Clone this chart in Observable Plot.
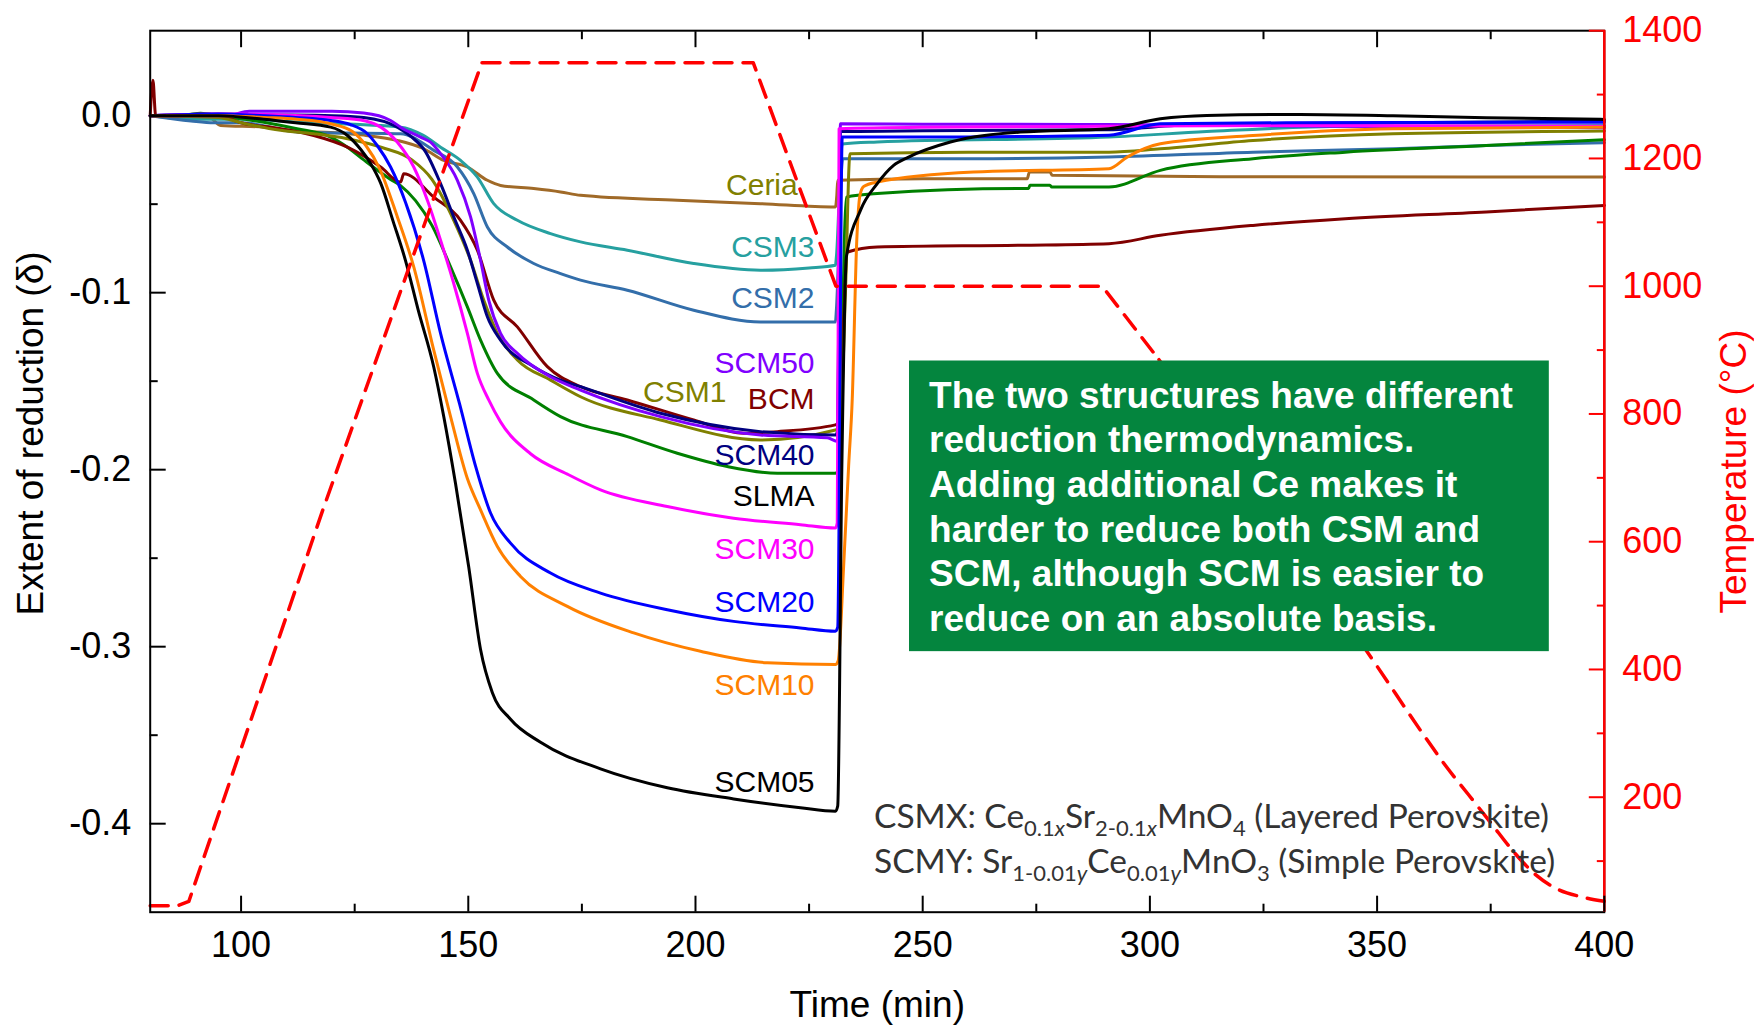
<!DOCTYPE html>
<html><head><meta charset="utf-8">
<script src="https://cdn.jsdelivr.net/npm/d3@7"></script>
<script src="https://cdn.jsdelivr.net/npm/@observablehq/plot@0.6"></script>
<style>html,body{margin:0;padding:0;background:#fff;} #chart svg{display:block}</style>
</head><body><div id="chart"></div>
<script>
// ---- data: [time (min), extent of reduction δ] ----
const SCM05 = [[80,0],[95,0],[105,-0.002],[112,-0.004],[119.7,-0.0065],[123.4,-0.0112],[126.3,-0.019],[128.5,-0.027],[130.7,-0.038],[133.5,-0.06],[136.2,-0.082],[139,-0.11],[142.4,-0.142],[144.6,-0.17],[147.2,-0.208],[150.1,-0.255],[152.7,-0.3016],[155.3,-0.326],[159.3,-0.341],[165.9,-0.354],[179.1,-0.369],[193.8,-0.3797],[208.4,-0.386],[223.1,-0.391],[230.8,-0.393],[231.3,-0.39],[232.2,-0.2],[233.2,-0.08],[236.3,-0.0535],[240,-0.0384],[243.6,-0.0281],[246.9,-0.0234],[256.1,-0.0149],[271.5,-0.0093],[291,-0.0074],[302.3,-0.0018],[312.5,0.0001],[333,0.0007],[353.5,0],[374,-0.0012],[400,-0.0021]];
const SCM10 = [[80,0],[95,0],[105,-0.001],[112.3,-0.002],[119.7,-0.0046],[124.5,-0.009],[127.5,-0.017],[130.5,-0.03],[134.4,-0.0572],[138,-0.0854],[142.4,-0.1325],[146.1,-0.17],[149.8,-0.205],[152.7,-0.2227],[156.4,-0.2434],[161.5,-0.2603],[171.8,-0.2772],[186.4,-0.2922],[201.1,-0.3026],[215.8,-0.3091],[230.8,-0.31],[231.4,-0.308],[232.6,-0.2546],[233.7,-0.198],[234.5,-0.16],[235.5,-0.07],[236.2,-0.045],[237,-0.04],[240,-0.0375],[261.2,-0.0318],[291,-0.03],[295,-0.0234],[302.3,-0.0159],[322.7,-0.0112],[353.5,-0.0074],[400,-0.0065]];
const SCM20 = [[80,0],[95,0.001],[105,0],[112,-0.001],[119.7,-0.0027],[124,-0.005],[127.8,-0.0102],[130,-0.017],[132.9,-0.029],[136.2,-0.049],[140.2,-0.082],[143.9,-0.123],[148.1,-0.163],[151.6,-0.198],[154.9,-0.2245],[159.3,-0.2415],[168.1,-0.2584],[179.1,-0.2697],[193.8,-0.2791],[208.4,-0.2857],[223.1,-0.2894],[230.8,-0.2913],[231.3,-0.289],[232.3,-0.012],[240,-0.0121],[260,-0.012],[291,-0.011],[302.3,-0.0046],[330,-0.004],[400,-0.0037]];
const SCM30 = [[80,0],[95,0.001],[113.1,0],[119.7,-0.001],[127.4,-0.003],[134.4,-0.015],[138,-0.029],[141,-0.0478],[143.9,-0.0704],[146.8,-0.0948],[149.8,-0.123],[152,-0.1456],[154.5,-0.1606],[157.1,-0.173],[163.7,-0.191],[171.8,-0.2025],[179.1,-0.2114],[193.8,-0.2208],[208.4,-0.2274],[223.1,-0.2311],[230.8,-0.233],[231.2,-0.23],[231.6,-0.0074],[250,-0.0065],[290,-0.006],[330,-0.0055],[400,-0.006]];
const SCM40 = [[80,0],[95,0.001],[105,0.0005],[120,0],[127,-0.001],[134.4,-0.0065],[137.5,-0.012],[140.5,-0.02],[143.9,-0.0384],[146.8,-0.0572],[149.8,-0.076],[152,-0.0948],[154.2,-0.1136],[157.1,-0.1268],[164.4,-0.1418],[170.3,-0.1494],[174.7,-0.1531],[192.3,-0.1681],[214.3,-0.1785],[230.8,-0.1804],[231.3,-0.178],[231.9,-0.009],[250,-0.0085],[290,-0.008],[310,-0.005],[400,-0.003]];
const SCM50 = [[80,0],[96.9,0],[101.8,0.0025],[120,0.0025],[127,0.0015],[132.9,-0.0027],[135.1,-0.0065],[139.5,-0.0121],[141.7,-0.015],[143.9,-0.0215],[147.6,-0.0365],[150.5,-0.0572],[152.7,-0.0817],[154.5,-0.1042],[157.1,-0.123],[160.8,-0.1343],[168.1,-0.1475],[174.7,-0.155],[192.3,-0.17],[214.3,-0.1804],[229,-0.182],[231.3,-0.184],[231.6,-0.1],[231.9,-0.0046],[250,-0.0048],[290,-0.005],[330,-0.0058],[400,-0.0068]];
const CSM1 = [[80,0],[95,-0.001],[100,-0.004],[108.7,-0.0083],[116,-0.0102],[123.4,-0.013],[131,-0.018],[137.6,-0.025],[142,-0.036],[146.8,-0.0591],[150.5,-0.0817],[153.4,-0.1042],[156.4,-0.123],[160.8,-0.138],[168.1,-0.1494],[174.7,-0.1588],[192.3,-0.1719],[214.3,-0.1832],[230.8,-0.1776],[231.8,-0.176],[233,-0.1],[234,-0.0215],[260,-0.0206],[291,-0.0206],[302.3,-0.0187],[322.7,-0.014],[353.5,-0.0102],[400,-0.0087]];
const CSM2 = [[80,0],[89,-0.003],[94,-0.004],[100,-0.004],[113.1,-0.0093],[135.1,-0.0102],[142.4,-0.0196],[147.6,-0.029],[151.2,-0.044],[154.2,-0.0629],[158.6,-0.0742],[164.4,-0.0835],[170.3,-0.0892],[174.7,-0.0929],[185,-0.0986],[199.6,-0.1099],[214.3,-0.1165],[230.8,-0.1165],[231,-0.11],[232.4,-0.0243],[260,-0.0243],[291,-0.0234],[322.7,-0.0206],[353.5,-0.0187],[374,-0.0168],[400,-0.0153]];
const CSM3 = [[80,0],[90,-0.002],[100,-0.002],[113.1,-0.0037],[135.1,-0.0065],[140,-0.011],[143.9,-0.0178],[148.3,-0.0253],[152,-0.0347],[155.6,-0.0497],[160.8,-0.0591],[168.1,-0.0666],[174.7,-0.0713],[185,-0.076],[199.6,-0.0835],[214.3,-0.0873],[225,-0.086],[230.8,-0.0845],[231,-0.08],[232.3,-0.016],[240,-0.0149],[291,-0.0121],[312.5,-0.009],[343,-0.006],[400,-0.0056]];
const Ceria = [[80,0],[92.5,0],[95.5,-0.0055],[105,-0.0065],[113.1,-0.009],[119.7,-0.0095],[127,-0.011],[134.4,-0.014],[140.2,-0.0187],[144.6,-0.0253],[149.8,-0.029],[154.2,-0.0365],[157.1,-0.0394],[164.4,-0.0412],[170.3,-0.0431],[174.7,-0.045],[196,-0.0478],[214.3,-0.0497],[230.8,-0.0516],[231.1,-0.045],[231.3,-0.0365],[250,-0.0356],[273,-0.0356],[273.5,-0.0318],[278,-0.0318],[278.5,-0.0337],[320,-0.0345],[400,-0.0347]];
const BCM = [[80,0],[80.6,0.02],[81.2,0],[95,0],[100,-0.004],[108.7,-0.0074],[116,-0.0112],[123.4,-0.0178],[130.7,-0.029],[135.1,-0.0375],[135.8,-0.0328],[142.4,-0.046],[148.3,-0.0591],[152,-0.076],[155.6,-0.1042],[160.8,-0.1193],[167.4,-0.1418],[174.7,-0.1531],[185,-0.1606],[199.6,-0.1719],[210.6,-0.1794],[218,-0.1785],[230.8,-0.1747],[231.5,-0.173],[233.5,-0.077],[240,-0.0742],[271.5,-0.0732],[291,-0.0723],[302.3,-0.0676],[322.7,-0.062],[343,-0.0582],[374,-0.0544],[400,-0.0507]];
const SLMA = [[80,0],[88,0.0005],[91.1,0.0014],[95,0],[105,-0.0037],[112.3,-0.0074],[119.7,-0.0121],[123.4,-0.0178],[127,-0.025],[132.9,-0.036],[135.1,-0.0395],[138.4,-0.048],[142,-0.062],[146.1,-0.0854],[149.8,-0.108],[152.7,-0.1268],[156.4,-0.1456],[164.4,-0.1606],[170.3,-0.17],[185,-0.1813],[196,-0.1907],[207,-0.1982],[218,-0.202],[230.8,-0.202],[231.5,-0.199],[233.2,-0.046],[240,-0.044],[271.5,-0.0412],[273.3,-0.0412],[273.6,-0.0393],[278,-0.0393],[278.4,-0.0403],[291,-0.0403],[302.3,-0.0309],[322.7,-0.0243],[343,-0.0206],[374,-0.0168],[400,-0.0136]];
// temperature programme: [time (min), °C]
const TEMP = [[80,30],[86,30],[88.5,37],[118,650],[153,1350],[212.7,1350],[230.9,1000],[289.5,1000],[302,885],[350,405],[360,300],[365,250],[370,205],[375,160],[380,115],[385,78],[390,55],[395,44],[400,37]];

const seriesNames = ["Ceria","CSM3","CSM2","SLMA","BCM","CSM1","SCM40","SCM50","SCM30","SCM20","SCM10","SCM05"];
const seriesData  = [Ceria, CSM3, CSM2, SLMA, BCM, CSM1, SCM40, SCM50, SCM30, SCM20, SCM10, SCM05];
const seriesColors = ["#A06A28","#26A0A0","#336EAA","#008000","#800000","#808000","#000080","#8000FF","#FF00FF","#0000FF","#FF8000","#000000"];

// curve labels
const labelNames  = ["Ceria","CSM3","CSM2","SCM50","CSM1","BCM","SCM40","SLMA","SCM30","SCM20","SCM10","SCM05"];
const labelColors = ["#808000","#26A0A0","#336EAA","#8000FF","#808000","#800000","#000080","#000000","#FF00FF","#0000FF","#FF8000","#000000"];
const labelTime   = [222.5,226.2,226.2,226.2,206.8,226.2,226.2,226.2,226.2,226.2,226.2,226.2];
const labelDelta  = [-0.0394,-0.0747,-0.1033,-0.1399,-0.1565,-0.1602,-0.1922,-0.2152,-0.2452,-0.2748,-0.3219,-0.3764];

// ticks
const xMajor = [100,150,200,250,300,350,400];
const xMinor = [125,175,225,275,325,375];
const yMajor = [0,-0.1,-0.2,-0.3,-0.4];
const yMinor = [-0.05,-0.15,-0.25,-0.35];
const tMajor = [200,400,600,800,1000,1200,1400];
const tMinor = [100,300,500,700,900,1100,1300];

const boxLines = ["The two structures have different","reduction thermodynamics.","Adding additional Ce makes it","harder to reduce both CSM and","SCM, although SCM is easier to","reduce on an absolute basis."];

// ---- scales ----
const Y_DOMAIN = [-0.45, 0.048];
const T_DOMAIN = [20, 1400];
const tToY = t => Y_DOMAIN[0] + (t - T_DOMAIN[0]) / (T_DOMAIN[1] - T_DOMAIN[0]) * (Y_DOMAIN[1] - Y_DOMAIN[0]);
const yToT = y => T_DOMAIN[0] + (y - Y_DOMAIN[0]) / (Y_DOMAIN[1] - Y_DOMAIN[0]) * (T_DOMAIN[1] - T_DOMAIN[0]);

const rows = seriesNames.flatMap((n, i) => seriesData[i].map(([t, d]) => ({name: n, t, d})));
const tempRows = TEMP.map(([t, c]) => ({t, c}));
const labels = labelNames.map((n, i) => ({n, t: labelTime[i], d: labelDelta[i], col: labelColors[i]}));
const box = {x1: 247.1, x2: 387.9, y1: -0.1386, y2: -0.3028};
const boxText = boxLines.map((s, i) => ({s, t: 251.4, d: -0.1650 - i * 0.0252}));

const FONT = "'Liberation Sans', Arial, Helvetica, sans-serif";
const chart = Plot.plot({
  width: 1754, height: 1029,
  marginLeft: 149.7, marginRight: 150.2, marginTop: 30.2, marginBottom: 117.3,
  x: {domain: [80, 400]},
  y: {domain: Y_DOMAIN},
  color: {domain: seriesNames, range: seriesColors},
  style: {fontFamily: FONT, fontSize: "36px", background: "white", overflow: "visible"},
  marks: [
    Plot.line(rows, {x: "t", y: "d", z: "name", stroke: "name", strokeWidth: 3, curve: "monotone-x"}),
    Plot.text(labels, {x: "t", y: "d", text: "n", fill: "col", textAnchor: "end", lineAnchor: "middle", fontSize: 30}),
    Plot.line(tempRows.filter(r => r.t <= 302), {x: "t", y: r => tToY(r.c), stroke: "#FF0000", strokeWidth: 3.5, strokeDasharray: "18 11", curve: "linear"}),
    Plot.line(tempRows.filter(r => r.t >= 302), {x: "t", y: r => tToY(r.c), stroke: "#FF0000", strokeWidth: 3.5, strokeDasharray: "18 11", curve: "monotone-x"}),
    Plot.rect([box], {x1: "x1", x2: "x2", y1: "y1", y2: "y2", fill: "#04853E"}),
    Plot.text(boxText, {x: "t", y: "d", text: "s", fill: "white", fontWeight: "bold", fontSize: 37, textAnchor: "start", lineAnchor: "bottom"}),
    Plot.frame({stroke: "black", strokeWidth: 2}),
    Plot.ruleX([400], {stroke: "#FF0000", strokeWidth: 2.5}),
    // bottom axis
    Plot.axisX(xMajor, {anchor: "bottom", tickSize: -16, tickPadding: 35, strokeWidth: 2, label: null, fontSize: 36}),
    Plot.axisX(xMinor, {anchor: "bottom", tickSize: -8, tickFormat: () => "", strokeWidth: 2, label: null}),
    // top axis (ticks only)
    Plot.axisX(xMajor.slice(0, -1), {anchor: "top", tickSize: -16, tickFormat: () => "", strokeWidth: 2, label: null}),
    Plot.axisX(xMinor, {anchor: "top", tickSize: -8, tickFormat: () => "", strokeWidth: 2, label: null}),
    // left axis
    Plot.axisY(yMajor, {anchor: "left", tickSize: -16, tickPadding: 35, strokeWidth: 2, tickFormat: d => d.toFixed(1), label: null, fontSize: 36}),
    Plot.axisY(yMinor, {anchor: "left", tickSize: -8, tickFormat: () => "", strokeWidth: 2, label: null}),
    // right temperature axis
    Plot.axisY(tMajor.map(tToY), {anchor: "right", tickSize: -16, tickPadding: 34, strokeWidth: 2, color: "#FF0000", tickFormat: d => String(Math.round(yToT(d))), label: null, fontSize: 36}),
    Plot.axisY(tMinor.map(tToY), {anchor: "right", tickSize: -8, tickFormat: () => "", strokeWidth: 2, color: "#FF0000", label: null}),
    // axis titles
    Plot.text(["Extent of reduction (δ)"], {frameAnchor: "left", rotate: -90, dx: -107.7, dy: -38, lineAnchor: "bottom", textAnchor: "middle", fontSize: 37}),
    Plot.text(["Time (min)"], {frameAnchor: "bottom", dy: 104.3, lineAnchor: "bottom", textAnchor: "middle", fontSize: 37}),
    Plot.text(["Temperature (°C)"], {frameAnchor: "right", rotate: -90, dx: 141.2, lineAnchor: "bottom", textAnchor: "middle", fontSize: 37, fill: "#FF0000"})
  ]
});
document.getElementById("chart").appendChild(chart);

// formula annotation with subscripts, placed through the plot's scales
const formulaLines = [
  [["CSMX: Ce"],["0.1",1],["x",1,1],["Sr"],["2-0.1",1],["x",1,1],["MnO"],["4",1],[" (Layered Perovskite)"]],
  [["SCMY: Sr"],["1-0.01",1],["y",1,1],["Ce"],["0.01",1],["y",1,1],["MnO"],["3",1],[" (Simple Perovskite)"]]
];
const formulaAt = {t: 239.4, d: [-0.4029, -0.4283]};
const sx = chart.scale("x"), sy = chart.scale("y");
const g = d3.select(chart).append("g")
  .attr("fill", "#333333")
  .attr("text-anchor", "start")
  .attr("font-family", "Lato, 'Open Sans', sans-serif")
  .attr("font-size", 33.5);
formulaLines.forEach((parts, i) => {
  const t = g.append("text").attr("x", sx.apply(formulaAt.t)).attr("y", sy.apply(formulaAt.d[i]));
  parts.forEach(([s, sub, it]) => {
    const ts = t.append("tspan").text(s);
    if (sub) ts.attr("font-size", 22).attr("baseline-shift", -8);
    if (it) ts.attr("font-style", "italic");
  });
});
</script></body></html>
